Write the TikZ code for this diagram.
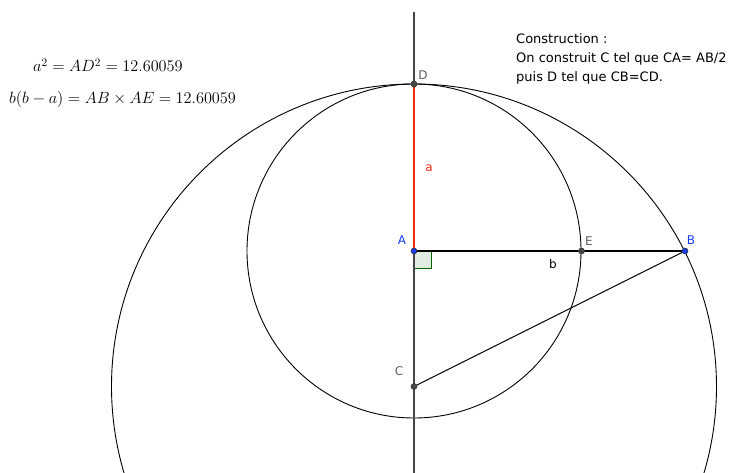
\documentclass[tikz,border=0pt]{standalone}
\usepackage{graphicx}
\usepackage{fontspec}
\setsansfont{DejaVu Sans}
\usetikzlibrary{positioning}
\definecolor{azul}{RGB}{25,60,240}
\definecolor{rojo}{RGB}{245,40,20}
\definecolor{gris}{RGB}{70,70,70}
\definecolor{grisclaro}{RGB}{95,95,95}
\definecolor{verde}{RGB}{0,100,0}
\definecolor{verdeclaro}{RGB}{226,236,226}
\newcommand{\formula}[1]{\scalebox{1.13}{\fontsize{14.4}{17}\selectfont$#1$}}
\tikzset{
  punto/.style={circle,fill=#1,draw=black!80,line width=0.6pt,inner sep=0pt,minimum size=6pt},
  etiqueta/.style={font=\sffamily\fontsize{12}{13}\selectfont,inner sep=0pt},
  traza/.style={line width=0.9pt}
}
\begin{document}
\begin{tikzpicture}[x=1pt,y=-1pt]
    \clip (0,0) rectangle (732,473);

    % puntos de la construccion
    \coordinate (A) at (414,251);
    \coordinate (B) at (685,251);
    \coordinate (C) at (414,386.5);
    \coordinate (D) at (414,84);
    \coordinate (E) at (581.5,251);
    \coordinate (arriba) at (414,12);
    \coordinate (abajo) at (414,473);

    % angulo recto
    \draw[verde,fill=verdeclaro,line width=0.8pt] (A) rectangle ++(17,17);

    % circulos
    \draw[traza] (C) circle[radius=302.5];
    \draw[traza] (A) circle[radius=167];

    % rectas
    \draw[gris,line width=1.1pt] (arriba) -- (abajo);
    \draw[traza] (C) -- (B);
    \draw[line width=2.2pt] (A) -- (B);
    \draw[rojo,line width=2.2pt] (A) -- (D);

    % puntos
    \node[punto=azul] (pA) at (A) {};
    \node[punto=azul] (pB) at (B) {};
    \node[punto=gris] (pC) at (C) {};
    \node[punto=gris] (pD) at (D) {};
    \node[punto=gris] (pE) at (E) {};

    % etiquetas
    \node[etiqueta,text=azul] at (402,240) {A};
    \node[etiqueta,text=azul] at (691,240) {B};
    \node[etiqueta,text=grisclaro] at (399,371) {C};
    \node[etiqueta,text=grisclaro] at (423,75) {D};
    \node[etiqueta,text=grisclaro] at (589,241) {E};
    \node[etiqueta,text=rojo] at (429,168) {a};
    \node[etiqueta] at (553,264) {b};

    % texto
    \node[etiqueta,anchor=north west,align=left,
      font=\sffamily\fontsize{13}{19}\selectfont] at (516,33)
      {Construction :\\On construit C tel que CA= AB/2\\puis D tel que CB=CD.};
    \node[anchor=base west,inner sep=0pt] (f1) at (33,72) {\formula{a^2 = AD^2 = 12.60059}};
    \node[anchor=base west,inner sep=0pt] (f2) at (9,104) {\formula{b(b-a) = AB \times AE = 12.60059}};
\end{tikzpicture}
\end{document}
